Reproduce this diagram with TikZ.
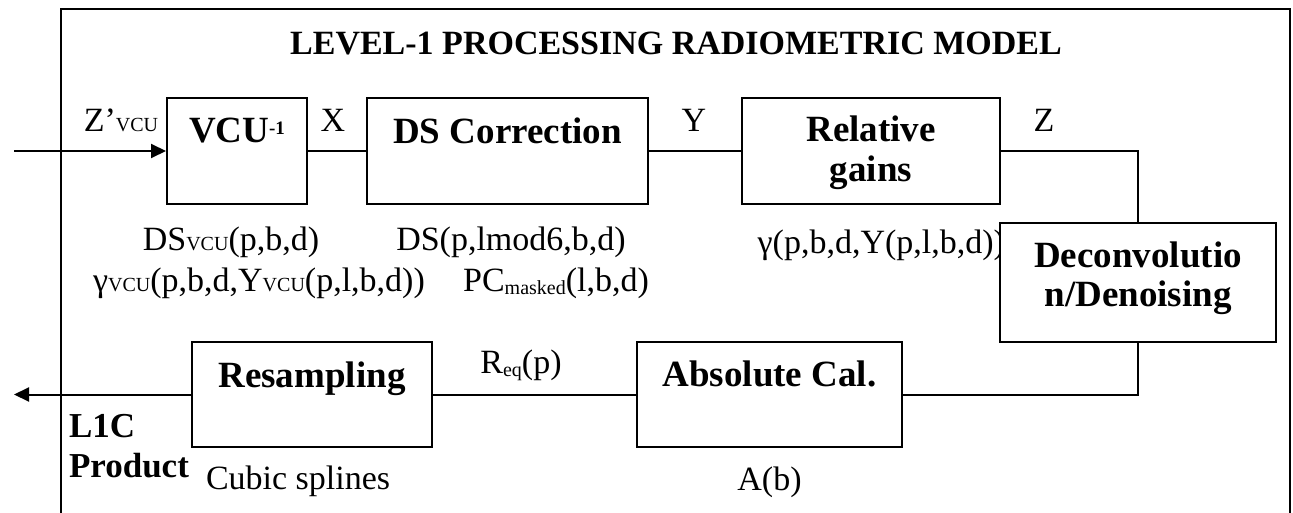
\documentclass[tikz,border=0pt]{standalone}
\usepackage{fontspec}
\setmainfont{Liberation Serif}
\usetikzlibrary{arrows.meta}

% text sizes (1pt of picture = 1px of output)
\newcommand\regtext{\fontsize{34}{40}\selectfont}
\newcommand\boldtext{\fontsize{37}{40}\selectfont\bfseries}
\newcommand\smalltext{\fontsize{20}{20}\selectfont}
\newcommand\vcusc{{\smalltext VCU}}
\newcommand\lowsub[1]{\raisebox{-3pt}{\smalltext #1}}

\begin{document}
\begin{tikzpicture}[x=1pt, y=-1pt, line width=2pt,
  blk/.style={draw, fill=white, inner sep=0pt},
  wire/.style={line width=2pt},
  flow/.style={wire, -{Triangle[length=15pt,width=14pt]}},
  ttl/.style={anchor=base, inner sep=0pt, font=\boldtext},
  lbl/.style={anchor=base, inner sep=0pt, font=\regtext}]
\useasboundingbox (0,0) rectangle (1293,513);

% open frame round the model
\draw (61,513) -- (61,9) -- (1290,9) -- (1290,513);

% title
\node[anchor=base, inner sep=0pt, font=\fontsize{34}{40}\selectfont\bfseries] (title) at (676,55)
  {LEVEL-1 PROCESSING RADIOMETRIC MODEL};

% parameter label partly hidden by the deconvolution block
\node[lbl, anchor=base east] (gamrel) at (1006,253) {γ(p,b,d,Y(p,l,b,d))};

% processing blocks
\node[blk, minimum width=140pt, minimum height=106pt] (vcu) at (237,151) {};
\node[blk, minimum width=281pt, minimum height=106pt] (dsc) at (507.5,151) {};
\node[blk, minimum width=258pt, minimum height=106pt] (rel) at (871,151) {};
\node[blk, minimum width=276pt, minimum height=119pt] (dec) at (1138,282.5) {};
\node[blk, minimum width=265pt, minimum height=105pt] (abs) at (769.5,394.5) {};
\node[blk, minimum width=240pt, minimum height=105pt] (res) at (312,394.5) {};

% block titles
\node[ttl] (vcuT) at (237,143) {VCU\raisebox{8pt}{\fontsize{19}{19}\selectfont -1}};
\node[ttl] (dscT) at (507.5,144) {DS Correction};
\node[ttl] (relT1) at (871,142) {Relative};
\node[ttl] (relT2) at (871,182) {gains};
\node[ttl] (decT1) at (1138,267) {Deconvolutio};
\node[ttl] (decT2) at (1138,306) {n/Denoising};
\node[ttl] (absT) at (769.5,386) {Absolute Cal.};
\node[ttl] (resT) at (312,387) {Resampling};

% signal names
\node[lbl] (zin) at (121,132) {Z’\vcusc};
\node[lbl] (xs) at (333,132) {X};
\node[lbl] (ys) at (694,132) {Y};
\node[lbl] (zs) at (1044,132) {Z};
\node[lbl] (req) at (521,373) {R\lowsub{eq}(p)};

% parameters of each block
\node[lbl] (dsvcu) at (231,251) {DS\vcusc(p,b,d)};
\node[lbl] (gamvcu) at (259,291) {γ\vcusc(p,b,d,Y\vcusc(p,l,b,d))};
\node[lbl] (dsp) at (511,251) {DS(p,lmod6,b,d)};
\node[lbl] (pcm) at (556,291) {PC\lowsub{masked}(l,b,d)};
\node[lbl] (ab) at (769.5,490) {A(b)};
\node[lbl, anchor=base west] (cub) at (205,489) {Cubic splines};

% output product
\node[anchor=base west, inner sep=0pt, font=\fontsize{35}{40}\selectfont\bfseries] (l1c) at (68,437) {L1C};
\node[anchor=base west, inner sep=0pt, font=\fontsize{35}{40}\selectfont\bfseries] (prod) at (68,477) {Product};

% connectors
\coordinate (in) at (14,151);
\coordinate (out) at (14,394.5);
\draw[flow] (in) -- (vcu.west);
\draw[wire] (vcu.east) -- (dsc.west);
\draw[wire] (dsc.east) -- (rel.west);
\draw[wire] (rel.east) -| (dec.north);
\draw[wire] (dec.south) |- (abs.east);
\draw[wire] (abs.west) -- (res.east);
\draw[flow] (res.west) -- (out);
\end{tikzpicture}
\end{document}
